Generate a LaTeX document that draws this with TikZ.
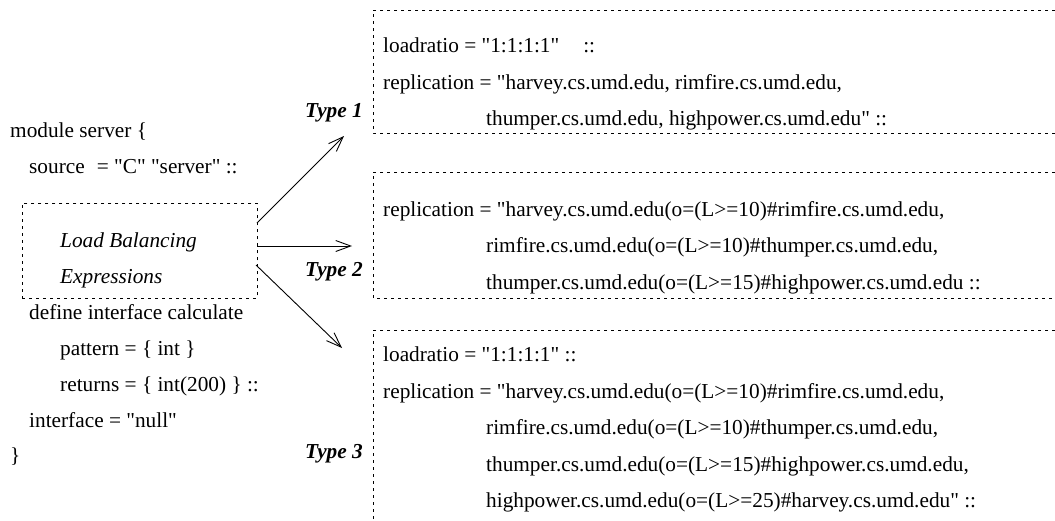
\documentclass[tikz,border=0pt]{standalone}
\usepackage{fontspec}
\setmainfont{Liberation Serif}[Ligatures=TeXOff]
\usetikzlibrary{arrows.meta}
\begin{document}
\begin{tikzpicture}[x=1pt,y=-1pt,
  txt/.style={anchor=base west,inner sep=0pt,font=\fontsize{21.3}{25}\selectfont},
  lbl/.style={anchor=base east,inner sep=0pt,font=\fontsize{21.3}{25}\selectfont\bfseries\itshape},
  dotbox/.style={draw,line width=0.9pt,dash pattern=on 3pt off 4pt},
  arr/.style={line width=0.9pt,-{Straight Barb[length=15pt,width=11pt,line width=0.9pt]}}]
\useasboundingbox (0,0) rectangle (1055,520);

% module listing
\node[txt] (m1) at (10,137) {module server \{};
\node[txt] (m2) at (29,173) {source\hspace{12pt}= "C" "server" ::};
\node[dotbox,minimum width=235pt,minimum height=95pt,anchor=north west,inner sep=0pt] (lb) at (22,203) {};
\node[txt,font=\fontsize{21.3}{25}\selectfont\itshape] (lb1) at (60,247) {Load Balancing};
\node[txt,font=\fontsize{21.3}{25}\selectfont\itshape] (lb2) at (60,283) {Expressions};
\node[txt] (m3) at (29,319) {define interface calculate};
\node[txt] (m4) at (60,355) {pattern = \{ int \}};
\node[txt] (m5) at (60,391) {returns = \{ int(200) \} ::};
\node[txt] (m6) at (29,427) {interface = "null"};
\node[txt] (m7) at (10,462) {\}};

% expression variants
\draw[dotbox] (1055,10) -- (373,10) -- (373,133) -- (1055,133);
\draw[dotbox] (1055,172) -- (373,172) -- (373,298) -- (1055,298);
\draw[dotbox] (1055,330) -- (373,330) -- (373,520);

\node[lbl] (ty1) at (363,117) {Type 1};
\node[lbl] (ty2) at (363,276) {Type 2};
\node[lbl] (ty3) at (363,458) {Type 3};

\node[txt] (a1) at (383,52) {loadratio = "1:1:1:1"\hspace{24pt}::};
\node[txt] (a2) at (383,89) {replication = "harvey.cs.umd.edu, rimfire.cs.umd.edu,};
\node[txt] (a3) at (486,125) {thumper.cs.umd.edu, highpower.cs.umd.edu" ::};

\node[txt] (b1) at (383,216) {replication = "harvey.cs.umd.edu(o=(L>=10)\#rimfire.cs.umd.edu,};
\node[txt] (b2) at (486,252) {rimfire.cs.umd.edu(o=(L>=10)\#thumper.cs.umd.edu,};
\node[txt] (b3) at (486,289) {thumper.cs.umd.edu(o=(L>=15)\#highpower.cs.umd.edu ::};

\node[txt] (c1) at (383,361) {loadratio = "1:1:1:1" ::};
\node[txt] (c2) at (383,398) {replication = "harvey.cs.umd.edu(o=(L>=10)\#rimfire.cs.umd.edu,};
\node[txt] (c3) at (486,434) {rimfire.cs.umd.edu(o=(L>=10)\#thumper.cs.umd.edu,};
\node[txt] (c4) at (486,471) {thumper.cs.umd.edu(o=(L>=15)\#highpower.cs.umd.edu,};
\node[txt] (c5) at (486,507) {highpower.cs.umd.edu(o=(L>=25)\#harvey.cs.umd.edu" ::};

% arrows from the expression box
\coordinate (s1) at (257,223);
\coordinate (s2) at (257,246);
\coordinate (s3) at (256,265);
\coordinate (e1) at (344,136);
\coordinate (e2) at (352,246);
\coordinate (e3) at (342,348);
\draw[arr] (s1) -- (e1);
\draw[arr] (s2) -- (e2);
\draw[arr] (s3) -- (e3);
\end{tikzpicture}
\end{document}
